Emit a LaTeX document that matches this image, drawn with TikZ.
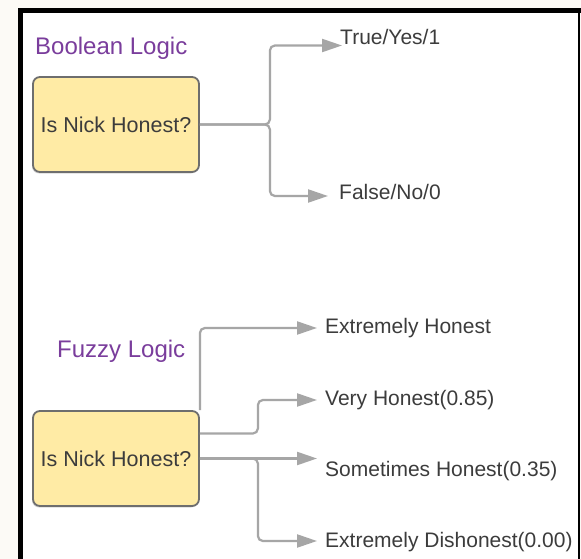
\documentclass[tikz,border=0pt]{standalone}
\usepackage{fontspec}
\setmainfont{Liberation Sans}
\usetikzlibrary{arrows.meta,shadows}
\definecolor{linegray}{HTML}{A6A6A6}
\definecolor{boxfill}{HTML}{FFEBA5}
\definecolor{boxline}{HTML}{6E6E6E}
\definecolor{logicpurple}{HTML}{7A3D9C}
\definecolor{textgray}{HTML}{3C3C3C}
\definecolor{offwhite}{HTML}{FCFAF6}

\begin{document}
\begin{tikzpicture}[x=10pt,y=10pt]
\tikzstyle{every node}+=[inner sep=0pt, text=textgray]
\tikzstyle{question}=[draw=boxline, line width=1.8pt, fill=boxfill, rounded corners=7pt, minimum width=166pt, minimum height=95pt, font=\fontsize{21.5}{25}\selectfont, drop shadow={shadow xshift=-1pt, shadow yshift=-1.5pt, opacity=0.3}]
\tikzstyle{logic}=[anchor=base west, text=logicpurple, font=\fontsize{24}{28}\selectfont]
\tikzstyle{answer}=[anchor=base west, font=\fontsize{21}{25}\selectfont]
\tikzstyle{branchline}=[draw=linegray, line width=2.2pt, rounded corners=5pt, -{Triangle[length=20pt,width=13pt]}]
\useasboundingbox (0,0) rectangle (58.1,-55.9);
\fill [offwhite] (0,0) rectangle (58.1,-55.9);
\fill [white] (2.3,-1.3) rectangle (57.8,-55.9);
\fill [black] (1.8,-0.8) rectangle (58.1,-1.3);
\fill [black] (1.8,-0.8) rectangle (2.3,-55.9);
\fill [black] (57.78,-0.8) rectangle (58.0,-55.9);
\node [logic] (boolT) at (3.5,-5.5) {Boolean Logic};
\node [logic] (fuzzT) at (5.7,-35.7) {Fuzzy Logic};
\node [question] (bq) at (11.6,-12.45) {Is Nick Honest?};
\node [question] (fq) at (11.6,-45.85) {Is Nick Honest?};
\node [answer] (aTrue) at (34.0,-4.45) {True/Yes/1};
\node [answer] (aFalse) at (33.9,-20.0) {False/No/0};
\node [answer] (aExt) at (32.5,-33.3) {Extremely Honest};
\node [answer] (aVery) at (32.5,-40.5) {Very Honest(0.85)};
\node [answer] (aSome) at (32.5,-47.6) {Sometimes Honest(0.35)};
\node [answer] (aDis) at (32.5,-54.7) {Extremely Dishonest(0.00)};
\coordinate (tTrue) at ([xshift=2pt,yshift=-1pt]aTrue.base west);
\coordinate (tFalse) at ([xshift=-11pt,yshift=4pt]aFalse.base west);
\coordinate (tExt) at ([xshift=-8pt,yshift=5pt]aExt.base west);
\coordinate (tVery) at ([xshift=-8pt,yshift=5pt]aVery.base west);
\coordinate (tSome) at ([xshift=-8pt]aSome.base west);
\coordinate (tDis) at ([xshift=-8pt,yshift=6pt]aDis.base west);
\draw [branchline] (bq.east) -- ++(7,0) |- (tTrue);
\draw [branchline] (bq.east) -- ++(7,0) |- (tFalse);
\draw [branchline] (fq.north east) |- (tExt);
\draw [branchline] ([yshift=25pt]fq.east) -- ++(5.8,0) |- (tVery);
\draw [branchline] (fq.east) -- (fq.east -| tSome);
\draw [branchline] (fq.east) -- ++(5.8,0) |- (tDis);
\end{tikzpicture}
\end{document}
